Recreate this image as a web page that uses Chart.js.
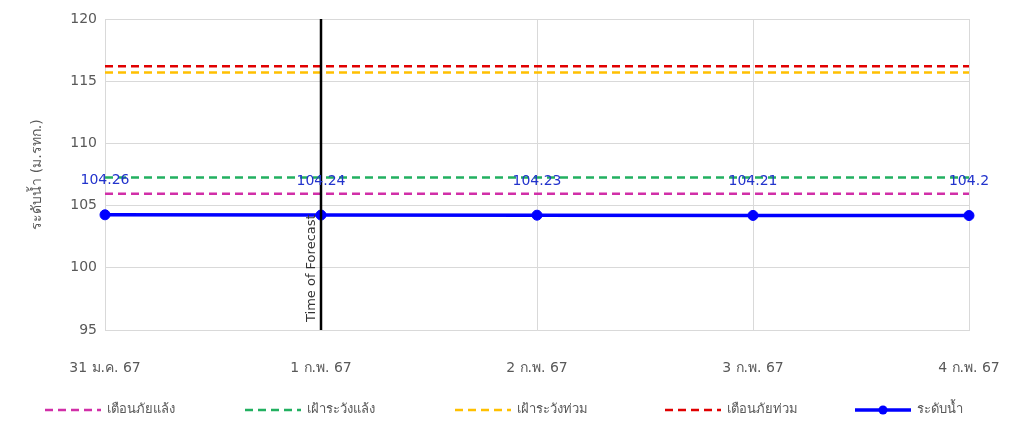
<!DOCTYPE html>
<html lang="th">
<head>
  <meta charset="UTF-8">
  <title>ระดับน้ำ</title>
  <script src="https://cdn.jsdelivr.net/npm/chart.js"></script>
  <style>
    body { margin: 0; background: #fff; }
    .wrap { width: 1011px; height: 425px; }
  </style>
</head>
<body>
  <div class="wrap"><canvas id="wlChart" width="1011" height="425"></canvas></div>
  <script>
    // ข้อมูล
    const dates = ['31 ม.ค. 67', '1 ก.พ. 67', '2 ก.พ. 67', '3 ก.พ. 67', '4 ก.พ. 67'];
    const waterLevel = [104.26, 104.24, 104.23, 104.21, 104.2];
    const droughtWarn = [105.95, 105.95, 105.95, 105.95, 105.95];
    const droughtWatch = [107.25, 107.25, 107.25, 107.25, 107.25];
    const floodWatch = [115.7, 115.7, 115.7, 115.7, 115.7];
    const floodWarn = [116.2, 116.2, 116.2, 116.2, 116.2];
    const forecastIndex = 1;
    const FONT = 'Tahoma, "DejaVu Sans", sans-serif';

    function dashed(label, data, color) {
      return {
        label: label, data: data, borderColor: color, backgroundColor: color,
        borderWidth: 2.5, borderDash: [8, 5], pointRadius: 0, fill: false
      };
    }

    // เส้น Time of Forecast + ค่าตัวเลข + คำอธิบาย
    const overlay = {
      id: 'overlay',
      afterDatasetsDraw(chart) {
        const ctx = chart.ctx, x = chart.scales.x, y = chart.scales.y, a = chart.chartArea;
        const fx = x.getPixelForValue(forecastIndex);
        ctx.save();
        ctx.strokeStyle = '#000';
        ctx.lineWidth = 2.5;
        ctx.beginPath();
        ctx.moveTo(fx, a.top);
        ctx.lineTo(fx, a.bottom);
        ctx.stroke();
        ctx.translate(fx - 3, a.bottom - 8);
        ctx.rotate(-Math.PI / 2);
        ctx.fillStyle = '#333';
        ctx.font = '13px ' + FONT;
        ctx.textAlign = 'left';
        ctx.textBaseline = 'bottom';
        ctx.fillText('Time of Forecast', 0, 0);
        ctx.restore();

        ctx.save();
        ctx.fillStyle = '#2233cc';
        ctx.font = '14px ' + FONT;
        ctx.textAlign = 'center';
        ctx.textBaseline = 'middle';
        waterLevel.forEach((v, i) => {
          ctx.fillText(String(v), x.getPixelForValue(i), y.getPixelForValue(v) - 34);
        });
        ctx.restore();
      },
      afterDraw(chart) {
        const ctx = chart.ctx;
        const ly = 410;
        const starts = [45, 245, 455, 665, 855];
        ctx.save();
        ctx.font = '13px ' + FONT;
        ctx.textBaseline = 'middle';
        chart.data.datasets.forEach((ds, i) => {
          const x0 = starts[i];
          ctx.strokeStyle = ds.borderColor;
          ctx.lineWidth = ds.borderDash ? 2.5 : 3.5;
          ctx.setLineDash(ds.borderDash || []);
          ctx.beginPath();
          ctx.moveTo(x0, ly);
          ctx.lineTo(x0 + 56, ly);
          ctx.stroke();
          ctx.setLineDash([]);
          if (!ds.borderDash) {
            ctx.fillStyle = ds.borderColor;
            ctx.beginPath();
            ctx.arc(x0 + 28, ly, 4.5, 0, Math.PI * 2);
            ctx.fill();
          }
          ctx.fillStyle = '#595959';
          ctx.fillText(ds.label, x0 + 62, ly);
        });
        ctx.restore();
      }
    };

    new Chart(document.getElementById('wlChart').getContext('2d'), {
      type: 'line',
      data: {
        labels: dates,
        datasets: [
          dashed('เตือนภัยแล้ง', droughtWarn, '#d12fa8'),
          dashed('เฝ้าระวังแล้ง', droughtWatch, '#22b060'),
          dashed('เฝ้าระวังท่วม', floodWatch, '#ffc000'),
          dashed('เตือนภัยท่วม', floodWarn, '#e00000'),
          {
            label: 'ระดับน้ำ', data: waterLevel, borderColor: '#0000ff', backgroundColor: '#0000ff',
            borderWidth: 3.5, pointRadius: 5, pointBorderWidth: 1, pointHoverRadius: 5, fill: false
          }
        ]
      },
      options: {
        responsive: false,
        animation: false,
        layout: { padding: { top: 19, right: 42, left: 25, bottom: 0 } },
        plugins: { legend: { display: false }, tooltip: { enabled: false } },
        scales: {
          x: {
            offset: false,
            grid: { color: '#d9d9d9', drawTicks: false },
            border: { color: '#d9d9d9' },
            ticks: { color: '#595959', font: { size: 14, family: FONT }, padding: 30, maxRotation: 0 },
            afterFit(s) { s.height = 95; s.paddingLeft = 0; s.paddingRight = 0; }
          },
          y: {
            min: 95, max: 120,
            ticks: { stepSize: 5, color: '#595959', font: { size: 14, family: FONT }, padding: 8 },
            grid: { color: '#d9d9d9', drawTicks: false },
            border: { color: '#d9d9d9' },
            title: { display: true, text: 'ระดับน้ำ (ม.รทก.)', color: '#595959', font: { size: 14, family: FONT } },
            afterFit(s) { s.width = 80; }
          }
        }
      },
      plugins: [overlay]
    });
  </script>
</body>
</html>
